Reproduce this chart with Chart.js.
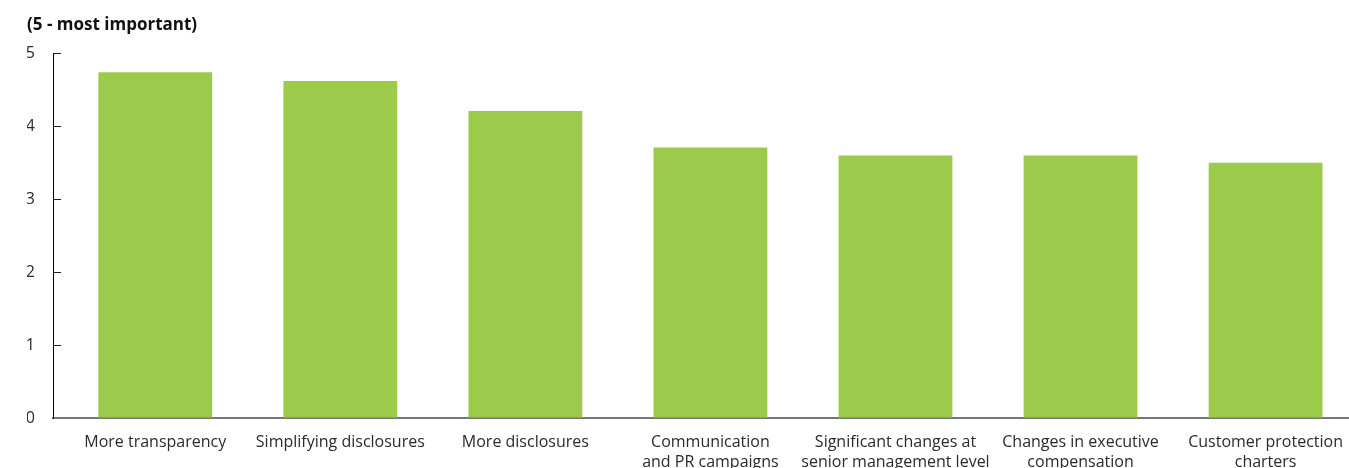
<!DOCTYPE html>
<html>
<head>
<meta charset="utf-8">
<script src="https://cdn.jsdelivr.net/npm/chart.js@4/dist/chart.umd.min.js"></script>
<style>
  html, body { margin: 0; padding: 0; background: #fff; overflow: hidden; }
  #wrap { width: 1349px; height: 468px; position: relative; }
</style>
</head>
<body>
<div id="wrap"><canvas id="c"></canvas></div>
<script>
// Measures and their average importance rating
const categories = [
  ['More transparency'],
  ['Simplifying disclosures'],
  ['More disclosures'],
  ['Communication', 'and PR campaigns'],
  ['Significant changes at', 'senior management level'],
  ['Changes in executive', 'compensation'],
  ['Customer protection', 'charters']
];
const ratings = [4.74, 4.62, 4.21, 3.71, 3.6, 3.6, 3.5];
const yTicks = [0, 1, 2, 3, 4, 5];

const FONT = '"Open Sans", "Noto Sans", sans-serif';

new Chart(document.getElementById('c'), {
  type: 'bar',
  data: {
    datasets: [{
      data: ratings.map((v, i) => ({ x: i, y: v })),
      backgroundColor: '#9ccb4b',
      borderWidth: 0,
      categoryPercentage: 1,
      barPercentage: 0.615
    }]
  },
  options: {
    responsive: true,
    maintainAspectRatio: false,
    animation: false,
    layout: { padding: { left: 27, right: 0, top: 0, bottom: 0 } },
    plugins: {
      legend: { display: false },
      tooltip: { enabled: false },
      title: {
        display: true,
        text: '(5 - most important)',
        align: 'start',
        color: '#111',
        font: { family: FONT, size: 17, weight: 'bold', lineHeight: 1.2 },
        padding: { top: 15, bottom: 18 }
      }
    },
    scales: {
      x: {
        type: 'linear',
        offset: false,
        min: -0.5526,
        max: 6.448,
        grid: { display: false, offset: false },
        border: { display: true, color: '#777', width: 2 },
        afterBuildTicks: s => { s.ticks = categories.map((_, i) => ({ value: i })); },
        afterFit: s => { s.height = 50; },
        ticks: {
          autoSkip: false,
          maxRotation: 0,
          padding: 6,
          color: '#2b2b2b',
          font: { family: FONT, size: 16, lineHeight: 1.25 },
          callback: v => categories[v] || ''
        }
      },
      y: {
        min: 0,
        max: 5,
        afterBuildTicks: s => { s.ticks = yTicks.map(v => ({ value: v })); },
        afterFit: s => { s.width = 26; },
        grid: {
          drawOnChartArea: false,
          drawTicks: true,
          tickLength: -8,
          color: '#222',
          lineWidth: 1
        },
        border: { display: true, color: '#000', width: 1 },
        ticks: {
          padding: 26,
          color: '#2b2b2b',
          font: { family: FONT, size: 16 }
        }
      }
    }
  }
});
</script>
</body>
</html>
